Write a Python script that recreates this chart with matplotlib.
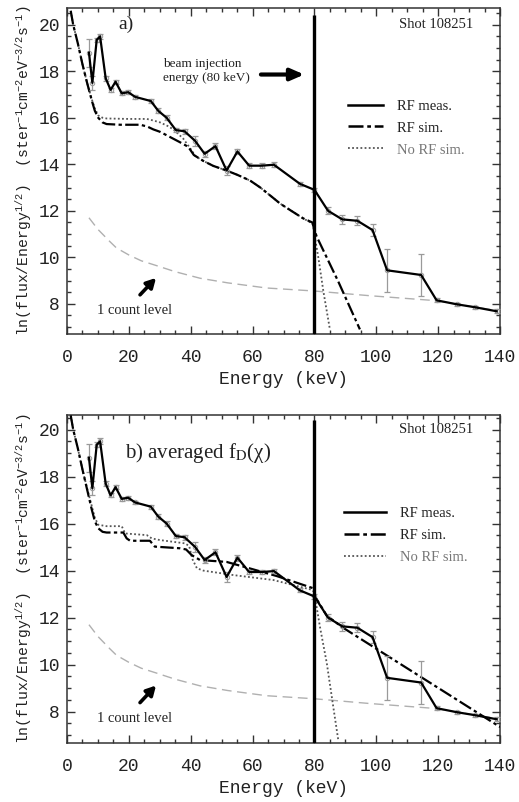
import matplotlib
matplotlib.use("Agg")
import matplotlib.pyplot as plt
from matplotlib.ticker import MultipleLocator
from matplotlib.lines import Line2D

plt.rcParams['mathtext.fontset'] = 'custom'
plt.rcParams['mathtext.rm'] = 'Liberation Mono'
plt.rcParams['mathtext.it'] = 'Liberation Mono'
plt.rcParams['mathtext.bf'] = 'Liberation Mono'

# ---------------- data ----------------
# measured RF spectrum (same in both panels)
E_meas = [7.1, 8.2, 9.6, 10.7, 12.5, 14.1, 15.7, 17.7, 19.8, 22.0, 27.1, 29.5, 32.2,
          35.2, 38.0, 41.4, 44.5, 48.0, 51.6, 55.1, 58.9, 62.9, 66.9, 75.3, 80.0,
          84.4, 89.0, 93.9, 98.8, 103.5, 114.5, 119.5, 126.0, 132.0, 138.9]
V_meas = [18.8, 17.5, 19.35, 19.5, 17.7, 17.2, 17.55, 17.05, 17.1, 16.9, 16.72, 16.3, 16.0,
          15.47, 15.42, 15.01, 14.45, 14.78, 13.73, 14.55, 13.94, 13.94, 13.98, 13.16, 12.9,
          12.0, 11.63, 11.57, 11.17, 9.44, 9.24, 8.15, 7.98, 7.85, 7.68]
Err_meas = [0.6, 0.3, 0.1, 0.12, 0.1, 0.08, 0.08, 0.08, 0.08, 0.08, 0.08, 0.1, 0.1,
            0.1, 0.1, 0.22, 0.12, 0.12, 0.2, 0.12, 0.1, 0.1, 0.1, 0.08, 0.1,
            0.15, 0.2, 0.2, 0.25, 0.93, 0.9, 0.08, 0.06, 0.06, 0.08]

# panel a) simulations
E_rfsim_a = [1.2, 2.0, 3.5, 5.0, 6.5, 8.0, 9.0, 10.1, 11.5, 12.8, 17.2, 23.7, 26.0, 27.9,
             30.0, 32.2, 36.5, 39.2, 41.0, 44.0, 47.3, 51.6, 55.0, 59.2, 62.5, 66.7, 68.9,
             72.5, 76.4, 79.3, 80.7, 87.7, 94.7]
V_rfsim_a = [20.6, 20.0, 19.2, 18.3, 17.5, 16.75, 16.3, 16.0, 15.8, 15.73, 15.7, 15.7, 15.62,
             15.5, 15.4, 15.25, 14.95, 14.75, 14.4, 14.15, 13.93, 13.73, 13.55, 13.3, 13.0,
             12.55, 12.31, 12.0, 11.67, 11.5, 10.9, 8.96, 6.9]
E_norf_a = [1.2, 2.0, 3.5, 5.0, 6.5, 8.0, 9.0, 10.1, 11.5, 12.8, 20.0, 25.8, 28.0, 30.1,
            32.5, 34.4, 37.6, 40.3, 41.5, 44.0, 47.3, 51.6, 55.0, 59.2, 62.5, 66.7, 68.9,
            72.5, 76.4, 79.4, 81.3, 82.9, 85.0]
V_norf_a = [20.6, 20.0, 19.2, 18.3, 17.5, 16.8, 16.4, 16.1, 16.0, 15.97, 15.95, 15.95, 15.88,
            15.8, 15.65, 15.5, 15.1, 14.6, 14.35, 14.15, 13.93, 13.73, 13.55, 13.3, 13.0,
            12.55, 12.31, 12.0, 11.67, 11.45, 9.96, 8.53, 6.9]

# panel b) simulations
E_rfsim_b = [1.2, 2.0, 3.5, 5.0, 6.5, 8.0, 9.0, 10.1, 11.5, 12.8, 18.2, 19.3, 20.4, 26.8,
             28.4, 36.5, 38.5, 40.3, 43.0, 51.6, 59.2, 67.8, 79.6, 80.2, 84.0, 89.5, 140.0]
V_rfsim_b = [20.6, 20.0, 19.2, 18.3, 17.45, 16.6, 16.1, 15.8, 15.65, 15.62, 15.62, 15.37, 15.27,
             15.27, 15.02, 14.95, 14.9, 14.66, 14.45, 14.37, 14.09, 13.77, 13.25, 12.9, 12.08,
             11.55, 7.35]
E_norf_b = [1.2, 2.0, 3.5, 5.0, 6.5, 8.0, 9.0, 10.1, 12.8, 17.7, 18.8, 25.8, 27.4, 30.0,
            38.1, 39.5, 40.5, 42.0, 44.1, 53.8, 66.7, 79.6, 80.2, 81.8, 84.0, 86.1, 87.7]
V_norf_b = [20.6, 20.0, 19.2, 18.3, 17.5, 16.75, 16.25, 15.95, 15.89, 15.89, 15.58, 15.51, 15.37,
            15.3, 15.16, 15.05, 14.5, 14.1, 14.0, 13.81, 13.6, 13.17, 12.85, 11.6, 10.06, 8.2, 6.8]

# one count level
E_count = [7.1, 10.0, 13.9, 16.0, 20.0, 24.0, 29.0, 35.0, 43.0, 52.0, 64.5, 80.0, 97.7, 118.8, 138.5]
V_count = [11.7, 11.2, 10.67, 10.4, 10.1, 9.85, 9.64, 9.38, 9.1, 8.9, 8.68, 8.55, 8.35, 8.14, 7.72]

E_beam = 80.0
x_ticks = [0, 20, 40, 60, 80, 100, 120, 140]
y_ticks = [8, 10, 12, 14, 16, 18, 20]

mono = 'Liberation Mono'
serif = 'Liberation Serif'

fig = plt.figure(figsize=(5.19, 8.02), dpi=100)
ax_a = fig.add_axes([0.1291, 0.5835, 0.8343, 0.4065])
ax_b = fig.add_axes([0.1291, 0.0736, 0.8343, 0.409])

ylabel = r'ln(flux/Energy$^{1/2}$)  (ster$^{-1}$cm$^{-2}$eV$^{-3/2}$s$^{-1}$)'

panels = [
    (ax_a, E_rfsim_a, V_rfsim_a, E_norf_a, V_norf_a, (6.7, 20.72)),
    (ax_b, E_rfsim_b, V_rfsim_b, E_norf_b, V_norf_b, (6.67, 20.62)),
]

for ax, Er, Vr, En, Vn, ylim in panels:
    # 1 count level
    ax.plot(E_count, V_count, color='#b0b0b0', lw=1.0, ls=(0, (7, 4)), zorder=1)
    # simulations
    ax.plot(En, Vn, color='#555555', lw=1.3, ls=(0, (1, 1.3)), zorder=2)
    ax.plot(Er, Vr, color='black', lw=1.6, ls=(0, (6, 1.5, 1.5, 1.5)), zorder=3)
    # measurement
    ax.errorbar(E_meas, V_meas, yerr=Err_meas, fmt='none', ecolor='#9a9a9a',
                elinewidth=0.9, capsize=2.5, capthick=0.9, zorder=4)
    ax.plot(E_meas, V_meas, ls='none', marker='o', ms=3.2, mfc='none', mec='#9a9a9a',
            mew=0.7, zorder=4)
    ax.plot(E_meas, V_meas, color='black', lw=1.6, zorder=5)
    # beam injection line
    ax.vlines(E_beam, ylim[0], 20.4, color='black', lw=2.4, zorder=6)

    ax.set_xlim(0, 140)
    ax.set_ylim(*ylim)
    ax.set_xticks(x_ticks)
    ax.set_yticks(y_ticks)
    ax.xaxis.set_minor_locator(MultipleLocator(5))
    ax.yaxis.set_minor_locator(MultipleLocator(0.5))
    ax.tick_params(which='both', direction='in', top=True, right=True, color='#333333',
                   width=1.0)
    ax.tick_params(which='major', length=5.5, labelsize=13, pad=5)
    ax.tick_params(axis='x', which='major', pad=11)
    ax.tick_params(which='minor', length=3)
    for lab in ax.get_xticklabels() + ax.get_yticklabels():
        lab.set_fontfamily(mono)
        lab.set_color('#222222')
    for sp in ax.spines.values():
        sp.set_linewidth(1.1)
        sp.set_color('#333333')
    ax.set_xlabel('Energy (keV)', fontfamily=mono, fontsize=13, color='#222222', labelpad=3.5)
    ax.set_ylabel(ylabel, fontfamily=mono, fontsize=10.6, color='#222222', labelpad=3)

    # annotations
    ax.text(131.3, 20.0, 'Shot 108251', fontfamily=serif, fontsize=10.5, ha='right',
            va='center', color='#222222')
    ax.annotate('', xy=(29.4, 9.2), xytext=(23.0, 8.3),
                arrowprops=dict(arrowstyle='-|>,head_length=0.55,head_width=0.3',
                                color='black', lw=2.6))
    ax.text(9.7, 7.72, '1 count level', fontfamily=serif, fontsize=10.5, ha='left',
            va='center', color='#222222')

    # legend
    handles = [Line2D([], [], color='black', lw=1.8),
               Line2D([], [], color='black', lw=1.8, ls=(0, (6, 1.5, 1.5, 1.5))),
               Line2D([], [], color='#555555', lw=1.3, ls=(0, (1, 1.3)))]
    leg = ax.legend(handles, ['RF meas.', 'RF sim.', 'No RF sim.'], loc='center left',
                    bbox_to_anchor=(0.65 if ax is ax_a else 0.64, 0.632),
                    frameon=False, fontsize=10.5, handlelength=2.4 if ax is ax_a else 2.9,
                    handletextpad=0.9, labelspacing=0.6, borderpad=0, borderaxespad=0)
    for t in leg.get_texts():
        t.set_fontfamily(serif)
        t.set_color('#222222')
    leg.get_texts()[2].set_color('#777777')

ax_a.text(16.5, 20.0, 'a)', fontfamily=serif, fontsize=14, ha='left', va='center',
          color='#222222')
ax_a.text(31.0, 18.0, 'beam injection\nenergy (80 keV)', fontfamily=serif, fontsize=9.5,
          ha='left', va='center', color='#222222', linespacing=1.2)
ax_a.annotate('', xy=(77.6, 17.86), xytext=(61.8, 17.86),
              arrowprops=dict(arrowstyle='-|>,head_length=0.8,head_width=0.35',
                              color='black', lw=3))
ax_b.text(18.8, 19.0, r'b) averaged f$_\mathrm{D}$(χ)', fontfamily=serif, fontsize=15,
          ha='left', va='center', color='#222222', math_fontfamily='stix')

fig.savefig('out.png', dpi=100)
